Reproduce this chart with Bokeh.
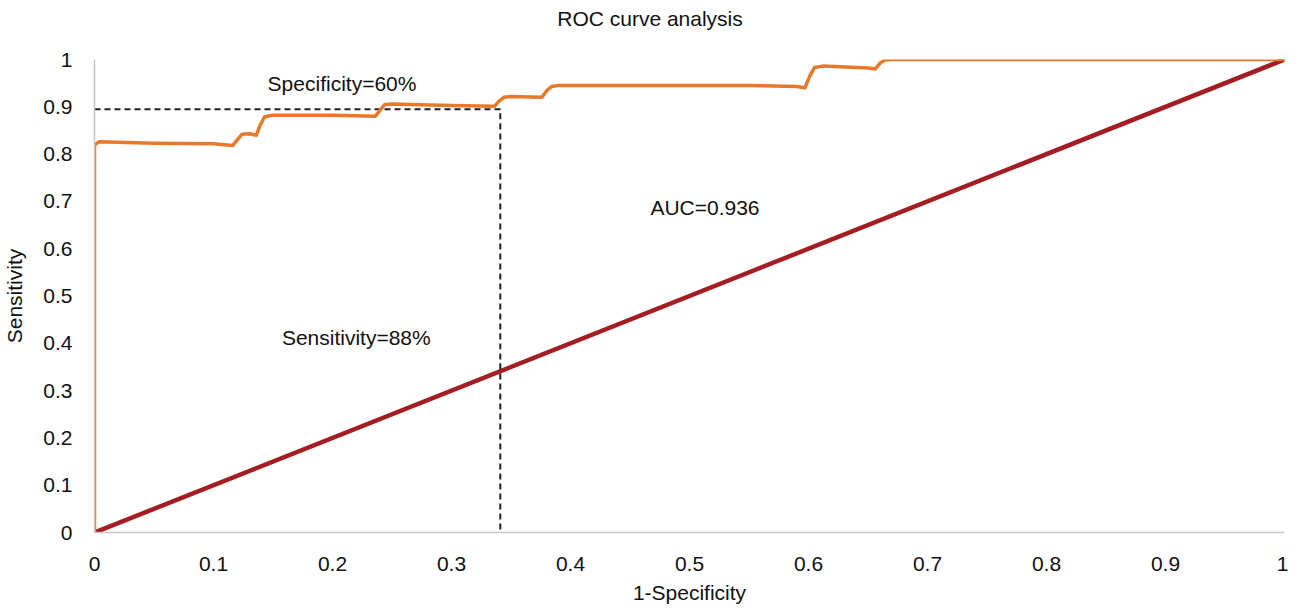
from bokeh.plotting import figure
from bokeh.embed import file_html
from bokeh.resources import INLINE
from bokeh.models import Label, Div
from bokeh.layouts import column

# ROC curve (1-specificity, sensitivity)
fpr = [0.0, 0.0, 0.004, 0.05, 0.10, 0.116, 0.12, 0.124, 0.13, 0.136, 0.139, 0.143, 0.15, 0.20,
       0.236, 0.24, 0.244, 0.25, 0.30, 0.336, 0.34, 0.344, 0.35, 0.376, 0.38, 0.384, 0.39,
       0.45, 0.55, 0.59, 0.597, 0.601, 0.605, 0.612, 0.65, 0.656, 0.66, 0.664, 0.67, 0.8, 1.0]
tpr = [0.0, 0.82, 0.826, 0.823, 0.822, 0.818, 0.83, 0.842, 0.843, 0.84, 0.86, 0.879, 0.882, 0.882,
       0.88, 0.893, 0.905, 0.906, 0.903, 0.901, 0.912, 0.92, 0.922, 0.92, 0.934, 0.943, 0.945,
       0.945, 0.945, 0.943, 0.94, 0.965, 0.983, 0.986, 0.982, 0.98, 0.992, 0.999, 1.0, 1.0, 1.0]
diag_x = [0.0, 1.0]
diag_y = [0.0, 1.0]
cut_x = [0.0, 0.341, 0.341]
cut_y = [0.895, 0.895, 0.0]
ticks = [0, 0.1, 0.2, 0.3, 0.4, 0.5, 0.6, 0.7, 0.8, 0.9, 1]
title_text = "ROC curve analysis"

FONT = "Liberation Sans"
FS = "21px"

title = Div(text=title_text, width=1290, height=26,
            styles={"font-family": FONT, "font-size": FS, "color": "#111111",
                    "text-align": "center", "line-height": "28px"})

p = figure(frame_width=1190, frame_height=473, x_range=(0, 1), y_range=(0, 1),
           output_backend="svg", toolbar_location=None,
           min_border_left=92, min_border_right=4, min_border_top=23, min_border_bottom=60)
p.outline_line_color = None
p.xgrid.visible = False
p.ygrid.visible = False

for ax in (p.xaxis[0], p.yaxis[0]):
    ax.ticker = ticks
    ax.axis_line_color = "#c8c8c8"
    ax.axis_line_width = 1.5
    ax.major_tick_line_color = None
    ax.minor_tick_line_color = None
    ax.major_label_text_font = FONT
    ax.major_label_text_font_size = FS
    ax.major_label_text_color = "#111111"
    ax.axis_label_text_font = FONT
    ax.axis_label_text_font_size = FS
    ax.axis_label_text_font_style = "normal"
    ax.axis_label_text_color = "#111111"
p.xaxis.axis_label = "1-Specificity"
p.yaxis.axis_label = "Sensitivity"
p.xaxis.major_label_standoff = 18
p.yaxis.major_label_standoff = 16
p.xaxis.axis_label_standoff = 7
p.yaxis.axis_label_standoff = 14
p.xaxis.major_label_overrides = {0: "0", 1: "1"}
p.yaxis.major_label_overrides = {0: "0", 1: "1"}

p.line(diag_x, diag_y, line_color="#a41d22", line_width=4.5)
p.line(cut_x, cut_y, line_color="#222222", line_width=2, line_dash="6 4")
p.line(fpr, tpr, line_color="#e8792b", line_width=3.5, line_join="round")

for txt, x, y in [("Specificity=60%", 0.208, 0.949), ("Sensitivity=88%", 0.22, 0.412),
                  ("AUC=0.936", 0.513, 0.687)]:
    p.add_layout(Label(x=x, y=y, text=txt, text_font=FONT, text_font_size=FS,
                       text_align="center", text_baseline="middle", text_color="#111111"))

layout = column(title, p, spacing=0)
open("out.html", "w").write(file_html(layout, INLINE))
